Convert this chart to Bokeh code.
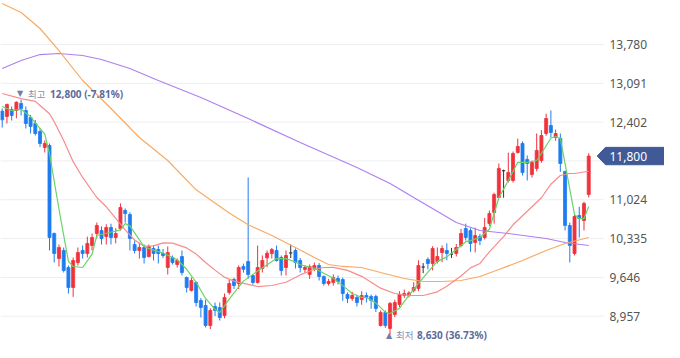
from bokeh.plotting import figure
from bokeh.models import ColumnDataSource, Label, Range1d
from bokeh.core.properties import value
from bokeh.embed import file_html
from bokeh.resources import INLINE

# ---- daily candles (KRW) ----
opens = [12597, 12502, 12626, 12608, 12733, 12608, 12484, 12378, 12236, 11952,
         11987, 10425, 9981, 10124, 9822, 9467, 9910, 10124, 10070, 10212,
         10425, 10479, 10372, 10532, 10354, 10514, 10834, 10763, 10230, 10124,
         10177, 10017, 10159, 10141, 10070, 9822, 9999, 9875, 10017, 9644,
         9414, 9556, 9236, 9147, 8792, 9130, 9112, 8970, 9378, 9609,
         9538, 9840, 9928, 9680, 9556, 9804, 9994, 10070, 10124, 10000,
         9822, 10080, 10124, 9946, 9787, 9698, 9804, 9857, 9662, 9538,
         9556, 9627, 9609, 9343, 9272, 9290, 9254, 9325, 9307, 9307,
         8792, 9023, 8740, 8987, 9165, 9325, 9325, 9414, 9450, 9830,
         9964, 9893, 9928, 10088, 10124, 10060, 10070, 10212, 10514, 10479,
         10266, 10372, 10354, 10603, 10798, 11064, 11540, 11366, 11366, 11863,
         12023, 11739, 11473, 11579, 11721, 12200, 12342, 12130, 12112, 11526,
         10567, 10070, 10745, 10656, 11117]
highs = [12644, 12733, 12680, 12770, 12800, 12680, 12530, 12440, 12300, 12076,
         12023, 10443, 10230, 10177, 9857, 9999, 10177, 10212, 10370, 10425,
         10620, 10550, 10590, 10600, 10520, 10960, 10870, 10800, 10300, 10260,
         10230, 10230, 10220, 10212, 10150, 10195, 10035, 9981, 10124, 9662,
         9644, 9573, 9280, 9250, 9100, 9200, 9200, 9360, 9600, 9640,
         9857, 9890, 11420, 9700, 10212, 10035, 10124, 10170, 10212, 10035,
         10124, 10230, 10160, 9990, 9860, 9875, 9910, 9900, 9680, 9620,
         9700, 9680, 9640, 9380, 9390, 9340, 9400, 9380, 9340, 9340,
         9059, 9059, 9210, 9250, 9400, 9430, 9400, 9560, 9950, 9900,
         10000, 10200, 10177, 10212, 10250, 10170, 10240, 10510, 10600, 10520,
         10530, 10420, 10700, 10834, 11150, 11668, 11560, 11860, 11880, 12110,
         12060, 11810, 11720, 12200, 12260, 12550, 12610, 12270, 12200, 11540,
         10620, 10780, 10900, 10990, 11850]
lows = [12307, 12378, 12431, 12470, 12520, 12290, 12200, 12165, 11960, 11863,
        10124, 9910, 9840, 9733, 9360, 9300, 9857, 9981, 9999, 10124,
        10337, 10230, 10230, 10230, 10250, 10479, 10620, 10124, 10070, 9981,
        9893, 9999, 9946, 9893, 9990, 9697, 9875, 9822, 9680, 9378,
        9396, 9130, 8934, 8757, 8730, 8960, 8880, 8920, 9340, 9440,
        9440, 9730, 9620, 9520, 9538, 9733, 9827, 9981, 9928, 9680,
        9680, 9990, 9804, 9733, 9730, 9620, 9760, 9591, 9500, 9500,
        9500, 9520, 9230, 9190, 9230, 9130, 9160, 9200, 9090, 9030,
        8775, 8750, 8630, 8940, 9120, 9280, 9290, 9380, 9400, 9720,
        9790, 9770, 9893, 9916, 9950, 9990, 10017, 10180, 10300, 10100,
        10090, 10220, 10320, 10560, 10600, 11060, 11060, 11330, 11330, 11845,
        11455, 11366, 11420, 11530, 11680, 12160, 12130, 12070, 11520, 10479,
        9910, 10035, 10354, 10479, 11064]
closes = [12443, 12715, 12520, 12756, 12644, 12378, 12325, 12200, 12023, 12023,
          10354, 10070, 10177, 9769, 9467, 9946, 10088, 10070, 10248, 10354,
          10567, 10337, 10532, 10354, 10425, 10887, 10780, 10337, 10124, 10177,
          9999, 10195, 10070, 10070, 10035, 10088, 9910, 9946, 9733, 9467,
          9591, 9200, 9112, 8792, 9059, 9059, 8934, 9290, 9538, 9502,
          9822, 9790, 9698, 9556, 9822, 9946, 10076, 10141, 9946, 9769,
          10035, 10080, 9910, 9822, 9822, 9840, 9857, 9662, 9538, 9573,
          9644, 9573, 9360, 9272, 9325, 9200, 9325, 9290, 9236, 9094,
          9023, 8792, 9183, 9200, 9343, 9360, 9370, 9467, 9857, 9830,
          9893, 10159, 10017, 10159, 10070, 10060, 10177, 10425, 10354, 10248,
          10390, 10301, 10532, 10780, 11117, 11579, 11540, 11508, 11845, 11970,
          11508, 11668, 11686, 11899, 12165, 12466, 12218, 12200, 11668, 10567,
          10212, 10727, 10690, 10958, 11800]

# ---- moving averages (candle index, value) ----
ma5_idx = [0, 2, 4, 6, 7, 9, 10, 12, 14, 15, 17, 19, 20, 22, 25, 26, 27, 30, 32, 34,
           37, 39, 41, 43, 45, 46, 48, 50, 51, 54, 56, 58, 60, 62, 63, 66, 68, 70, 72, 74,
           76, 77, 79, 81, 82, 84, 86, 88, 90, 92, 94, 96, 98, 99, 101, 103, 105, 107, 109, 111,
           113, 114, 116, 117, 118, 121, 122, 123, 124]
ma5 = [12680, 12608, 12630, 12500, 12390, 12190, 11845, 10860, 9930, 9840,
       9822, 10060, 10390, 10430, 10490, 10600, 10560, 10190, 10130, 10080,
       9960, 9790, 9560, 9272, 9080, 9023, 9260, 9480, 9580, 9760,
       9870, 9980, 9980, 9920, 9870, 9810, 9720, 9630, 9500, 9360,
       9290, 9289, 9190, 9030, 9005, 9100, 9330, 9538, 9740, 9930,
       10010, 10140, 10280, 10300, 10354, 10500, 11060, 11366, 11690, 11686,
       11721, 11845, 12120, 12147, 12112, 10760, 10690, 10690, 10905]
ma20_idx = [0, 4, 7, 8, 10, 11, 13, 15, 17, 20, 22, 24, 26, 28, 30, 32, 34, 36, 39, 41,
            43, 45, 47, 49, 51, 54, 57, 60, 63, 66, 68, 70, 73, 76, 78, 80, 83, 86, 89, 92,
            94, 97, 99, 101, 103, 106, 108, 111, 114, 116, 118, 120, 121, 124]
ma20 = [12910, 12820, 12770, 12697, 12550, 12410, 12076, 11700, 11420, 11064,
        10900, 10692, 10490, 10310, 10200, 10205, 10260, 10255, 10170, 10060,
        9910, 9775, 9650, 9580, 9540, 9484, 9502, 9560, 9690, 9790,
        9822, 9825, 9770, 9665, 9560, 9455, 9360, 9325, 9325, 9390,
        9490, 9670, 9815, 9893, 10100, 10370, 10580, 10820, 11060, 11300,
        11455, 11490, 11490, 11530]
ma60_idx = [0, 4, 8, 12, 17, 23, 29, 35, 41, 48, 52, 57, 62, 66, 69, 72, 76, 80, 85, 89,
            93, 97, 101, 105, 110, 115, 119, 124]
ma60 = [14508, 14348, 14064, 13673, 13141, 12644, 12129, 11721, 11200, 10790,
        10580, 10390, 10177, 9999, 9875, 9840, 9822, 9733, 9627, 9573,
        9573, 9591, 9662, 9786, 9946, 10124, 10248, 10354]
ma120_idx = [0, 4, 8, 12, 17, 21, 27, 33, 42, 52, 63, 75, 82, 87, 96, 101, 107, 115, 119, 124]
ma120 = [13354, 13496, 13602, 13620, 13585, 13514, 13354, 13141, 12839, 12466,
         12040, 11597, 11313, 11064, 10620, 10479, 10425, 10337, 10266, 10212]

# price scale (grid lines every 689 won; 11,713 is hidden under the last-price tag)
grid_ticks = [8957, 9646, 10335, 11024, 11713, 12402, 13091, 13780]
axis_ticks = [8957, 9646, 10335, 11024, 12402, 13091, 13780]
axis_labels = ["8,957", "9,646", "10,335", "11,024", "12,402", "13,091", "13,780"]

high_idx, high_val, high_pct = 4, 12800, "(-7.81%)"
low_idx, low_val, low_pct = 82, 8630, "(36.73%)"
last_close = closes[-1]

RED = "#f0323c"
BLUE = "#1f7cf0"
BLACK = "#333333"
TAG = "#3f5a97"

xs = list(range(len(closes)))
colors = [RED if c > o else (BLUE if c < o else BLACK) for o, c in zip(opens, closes)]
src = ColumnDataSource(dict(x=xs, o=opens, h=highs, l=lows, c=closes,
                            top=[max(o, c) for o, c in zip(opens, closes)],
                            bot=[min(o, c) for o, c in zip(opens, closes)],
                            color=colors))

PX = 4.73                      # pixels per candle slot
X0 = -1.7 / PX                 # left edge of the drawing
X1 = (664 - 1.7) / PX          # right edge of the drawing
PRICE_END = (603 - 1.7) / PX   # end of the price area (grid lines stop here)
LABEL_X = (609 - 1.7) / PX     # where the price-scale texts start

p = figure(width=664, height=342,
           x_range=Range1d(X0, X1), y_range=Range1d(8490.5, 14561),
           output_backend="svg", toolbar_location=None,
           x_axis_location=None, y_axis_location=None,
           min_border_left=0, min_border_top=0, min_border_bottom=0, min_border_right=0,
           outline_line_color=None, background_fill_color="white", border_fill_color="white")
p.xgrid.visible = False
p.ygrid.visible = False

# horizontal grid
p.segment(x0=[X0] * len(grid_ticks), x1=[PRICE_END] * len(grid_ticks),
          y0=grid_ticks, y1=grid_ticks, line_color="#eeeef2", line_width=1)

# candles
p.segment(x0="x", y0="l", x1="x", y1="h", color="color", line_width=1, source=src)
p.vbar(x="x", width=0.64, top="top", bottom="bot", fill_color="color",
       line_color="color", line_width=0.8, source=src)

# moving averages
p.line(ma120_idx, ma120, line_color="#b07ff2", line_width=1.2)
p.line(ma60_idx, ma60, line_color="#f8aa62", line_width=1.2)
p.line(ma20_idx, ma20, line_color="#f78c8c", line_width=1.2)
p.line(ma5_idx, ma5, line_color="#66d466", line_width=1.2)

# price scale labels
p.text(x=[LABEL_X] * len(axis_ticks), y=axis_ticks, text=axis_labels,
       text_font=value("Noto Sans"), text_font_size=value("12px"), text_color="#555555",
       text_baseline="middle", text_align="left")

# last price tag
half = 8.7 * 17.75
tip = (596.7 - 1.7) / PX
base = (605 - 1.7) / PX
p.patch(x=[tip, base, X1 + 1, X1 + 1, base],
        y=[last_close, last_close + half, last_close + half, last_close - half, last_close - half],
        fill_color=TAG, line_color=TAG, line_width=1)
p.text(x=[LABEL_X], y=[last_close], text=[f"{last_close:,}"],
       text_font=value("Noto Sans"), text_font_size=value("12px"), text_color="white",
       text_baseline="middle", text_align="left")

KR = "Noto Sans CJK KR"
HY = 12910
LY = 8615
# high annotation
p.add_layout(Label(x=high_idx, y=HY, x_offset=-4, text="▼", text_font="DejaVu Sans",
                   text_font_size="8px", text_color="#6c7ea9", text_baseline="middle"))
p.add_layout(Label(x=high_idx, y=HY, x_offset=7, text="최고", text_font=KR,
                   text_font_size="9.5px", text_color="#8391b3", text_baseline="middle"))
p.add_layout(Label(x=high_idx, y=HY, x_offset=29, text=f"{high_val:,} {high_pct}",
                   text_font="Noto Sans", text_font_style="bold", text_font_size="10px",
                   text_color="#5a6c9c", text_baseline="middle"))
# low annotation
p.add_layout(Label(x=low_idx, y=LY, x_offset=-4, text="▲", text_font="DejaVu Sans",
                   text_font_size="8px", text_color="#6c7ea9", text_baseline="middle"))
p.add_layout(Label(x=low_idx, y=LY, x_offset=6, text="최저", text_font=KR,
                   text_font_size="9.5px", text_color="#8391b3", text_baseline="middle"))
p.add_layout(Label(x=low_idx, y=LY, x_offset=27, text=f"{low_val:,} {low_pct}",
                   text_font="Noto Sans", text_font_style="bold", text_font_size="10px",
                   text_color="#5a6c9c", text_baseline="middle"))

open("out.html", "w").write(file_html(p, INLINE))
